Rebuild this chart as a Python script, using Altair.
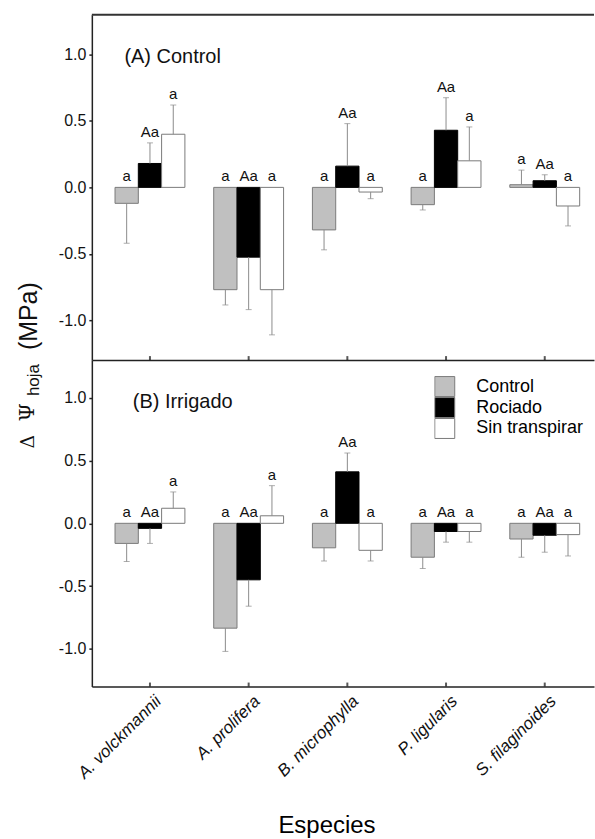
import altair as alt
import pandas as pd

species = ["A. volckmannii", "A. prolifera", "B. microphylla", "P. ligularis", "S. filaginoides"]
treatments = ["Control", "Rociado", "Sin transpirar"]
letters = ["a", "Aa", "a"]

# (A) Control: mean change in leaf water potential (MPa) and its standard error
a_control = [-0.12, -0.77, -0.32, -0.13, 0.02]
a_rociado = [0.18, -0.525, 0.16, 0.43, 0.05]
a_sin = [0.40, -0.77, -0.035, 0.20, -0.14]
a_control_se = [0.30, 0.115, 0.15, 0.04, 0.11]
a_rociado_se = [0.155, 0.395, 0.32, 0.245, 0.045]
a_sin_se = [0.22, 0.34, 0.05, 0.255, 0.15]

# (B) Irrigado
b_control = [-0.16, -0.835, -0.195, -0.27, -0.125]
b_rociado = [-0.04, -0.45, 0.41, -0.065, -0.095]
b_sin = [0.12, 0.06, -0.215, -0.065, -0.09]
b_control_se = [0.145, 0.185, 0.105, 0.09, 0.145]
b_rociado_se = [0.12, 0.21, 0.15, 0.085, 0.135]
b_sin_se = [0.13, 0.24, 0.085, 0.085, 0.17]

fills = ["#c0c0c0", "#000000", "#ffffff"]
edges = ["#7a7a7a", "#000000", "#7a7a7a"]
FONT = "Liberation Sans"
W = 503
H_A = 346
H_B = 327


def table(means, ses):
    rows = []
    for t, letter, m_list, s_list in zip(treatments, letters, means, ses):
        for sp, m, s in zip(species, m_list, s_list):
            end = m + s if m >= 0 else m - s
            rows.append({"especie": sp, "trat": t, "valor": m, "extremo": end,
                         "tope": max(0.0, end), "letra": letter})
    return pd.DataFrame(rows)


df_a = table([a_control, a_rociado, a_sin], [a_control_se, a_rociado_se, a_sin_se])
df_b = table([b_control, b_rociado, b_sin], [b_control_se, b_rociado_se, b_sin_se])
df_sp = pd.DataFrame({"especie": species})


def one(text):
    return pd.DataFrame({"t": [text]})


def panel(df, height, title, title_x, bottom, legend):
    if bottom:
        xaxis = alt.Axis(title="Especies", titleFont=FONT, titleFontSize=24, titleFontWeight="normal",
                         titleX=235, titleY=139, titleBaseline="middle", titleAlign="center",
                         labelAngle=-45, labelAlign="right", labelBaseline="top",
                         labelPadding=6, labelOffset=3, labelFontStyle="italic",
                         labelFontSize=17, labelOverlap=False, ticks=False)
    else:
        xaxis = alt.Axis(title=None, labels=False, ticks=False)
    x = alt.X("especie:N", sort=species,
              scale=alt.Scale(paddingInner=0.292, paddingOuter=0.19, align=0.618),
              axis=xaxis)
    xo = alt.XOffset("trat:N", sort=treatments,
                     scale=alt.Scale(domain=treatments, paddingInner=0, paddingOuter=0))
    yscale = alt.Scale(domain=[-1.3, 1.3], nice=False)
    yaxis = alt.Axis(title=None, values=[-1.0, -0.5, 0.0, 0.5, 1.0], tickSize=3, labelPadding=3,
                     labelExpr="datum.value < 0 ? '-' + format(-datum.value, '.1f') : format(datum.value, '.1f')")
    y = alt.Y("valor:Q", scale=yscale, axis=yaxis)

    if legend:
        leg = alt.Legend(orient="none", legendX=343, legendY=16, title=None, symbolType="square",
                         symbolSize=400, rowPadding=0, clipHeight=21, labelFontSize=18,
                         labelFont=FONT, labelOffset=21, padding=0, symbolStrokeColor="#7a7a7a",
                         symbolStrokeWidth=1, symbolOpacity=1)
    else:
        leg = None

    bars = alt.Chart(df).mark_bar(strokeWidth=1).encode(
        x=x, xOffset=xo, y=y,
        color=alt.Color("trat:N", sort=treatments,
                        scale=alt.Scale(domain=treatments, range=fills), legend=leg),
        stroke=alt.Stroke("trat:N", scale=alt.Scale(domain=treatments, range=edges), legend=None),
    )
    whiskers = alt.Chart(df).mark_rule(color="#8c8c8c", strokeWidth=1).encode(
        x=x, xOffset=xo, y=alt.Y("valor:Q", scale=yscale), y2="extremo:Q")
    caps = alt.Chart(df).mark_tick(color="#8c8c8c", thickness=1, size=6).encode(
        x=x, xOffset=xo, y=alt.Y("extremo:Q", scale=yscale))
    marks = alt.Chart(df).mark_text(baseline="alphabetic", dy=-6, fontSize=15, font=FONT,
                                    color="#111").encode(
        x=x, xOffset=xo, y=alt.Y("tope:Q", scale=yscale), text="letra:N")
    ticks = alt.Chart(df_sp).mark_tick(orient="vertical", size=4, thickness=2, color="#111").encode(
        x=x, y=alt.value(height - 2))
    head = alt.Chart(one(title)).mark_text(align="left", baseline="middle", fontSize=20,
                                           font=FONT, color="#111").encode(
        x=alt.value(title_x), y=alt.value(42), text="t:N")
    layers = [bars, whiskers, caps, marks, ticks, head]
    if not bottom:
        top_line = alt.Chart(one("")).mark_rule(color="#333", strokeWidth=2).encode(
            x=alt.value(0), x2=alt.value(W), y=alt.value(0))
        # rotated y title: Δ Ψ_hoja (MPa)
        t_delta = alt.Chart(one("Δ")).mark_text(angle=270, align="center", baseline="alphabetic",
                                                font="DejaVu Serif", fontSize=19, color="#111").encode(
            x=alt.value(-58.4), y=alt.value(427.7), text="t:N")
        t_psi = alt.Chart(one("Ψ")).mark_text(angle=270, align="center", baseline="alphabetic",
                                              font="DejaVu Serif", fontSize=21, color="#111").encode(
            x=alt.value(-58.4), y=alt.value(398.3), text="t:N")
        t_sub = alt.Chart(one("hoja")).mark_text(angle=270, align="center", baseline="alphabetic",
                                                 font=FONT, fontSize=17, color="#111").encode(
            x=alt.value(-53.4), y=alt.value(366), text="t:N")
        t_unit = alt.Chart(one("(MPa)")).mark_text(angle=270, align="center", baseline="alphabetic",
                                                   font=FONT, fontSize=25, color="#111").encode(
            x=alt.value(-55.4), y=alt.value(302), text="t:N")
        layers += [top_line, t_delta, t_psi, t_sub, t_unit]
    return alt.layer(*layers).properties(width=W, height=height)


top = panel(df_a, H_A, "(A) Control", 32.6, bottom=False, legend=False)
low = panel(df_b, H_B, "(B) Irrigado", 41, bottom=True, legend=True)

chart = alt.vconcat(top, low, spacing=0, bounds="flush").resolve_legend(
    color="independent"
).properties(
    padding={"left": 16, "top": 13, "right": 0, "bottom": 0},
    background="white",
).configure_view(strokeWidth=0).configure_axis(
    labelFont=FONT, labelFontSize=16, labelColor="#111", domainColor="#222", domainWidth=1.5,
    tickColor="#222", tickWidth=1.5, grid=False,
)

chart.save("out.html", embed_options={"renderer": "svg", "actions": False})
